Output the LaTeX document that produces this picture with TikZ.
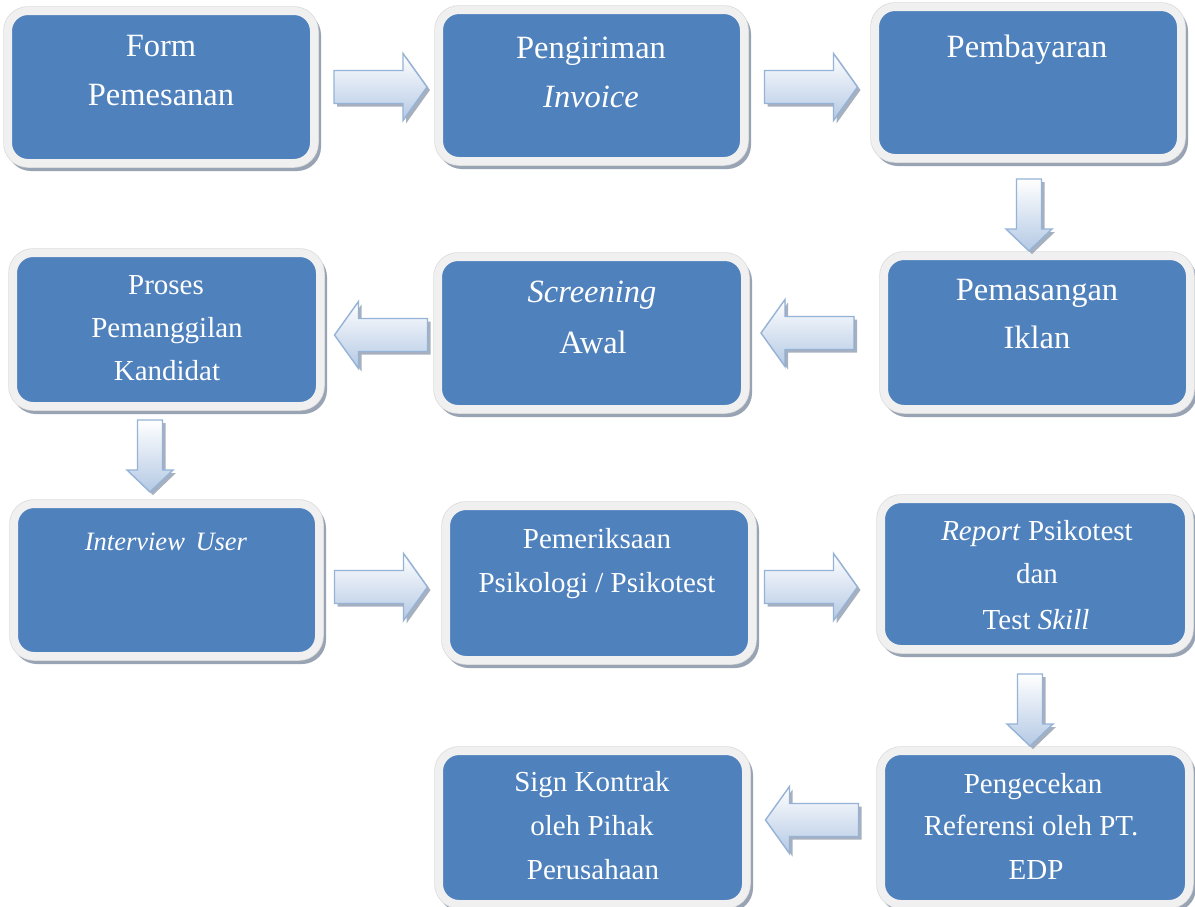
\documentclass[tikz,border=0pt]{standalone}
\usepackage{fontspec}
\setmainfont{Liberation Serif}
\usetikzlibrary{shadows}
\definecolor{boxblue}{HTML}{4F81BD}
\definecolor{framegray}{HTML}{F0F0F0}
\definecolor{shadowgray}{HTML}{98A3B4}
\definecolor{arrowline}{HTML}{95B3D7}
\definecolor{arrowfill}{HTML}{B4C9E4}
\tikzset{
  procbox/.style={rectangle, rounded corners=20pt, fill=boxblue, draw=framegray,
    line width=8pt, inner sep=0pt, outer sep=0pt,
    drop shadow={shadow xshift=3pt, shadow yshift=-4pt, fill=shadowgray, draw=shadowgray, line width=8pt, opacity=1},
    preaction={draw=black!14, line width=9.5pt}},
  bigtxt/.style={text=white, anchor=base, inner sep=0pt, font=\fontsize{32.5}{36}\selectfont},
  smalltxt/.style={text=white, anchor=base, inner sep=0pt, font=\fontsize{29}{33}\selectfont},
  blockarrow/.style={draw=arrowline, line width=1.4pt, line join=miter, top color=white, bottom color=arrowfill,
    drop shadow={shadow xshift=3pt, shadow yshift=-3pt, fill=shadowgray, opacity=0.85}}
}
\newcommand{\rarrow}[1]{\filldraw[blockarrow, shift={(#1)}] (-46.5,-16.5) -- (22.5,-16.5) -- (22.5,-33.5) -- (46.5,0) -- (22.5,33.5) -- (22.5,16.5) -- (-46.5,16.5) -- cycle;}
\newcommand{\larrow}[1]{\filldraw[blockarrow, shift={(#1)}] (46.5,-16.5) -- (-22.5,-16.5) -- (-22.5,-33.5) -- (-46.5,0) -- (-22.5,33.5) -- (-22.5,16.5) -- (46.5,16.5) -- cycle;}
\newcommand{\darrow}[1]{\filldraw[blockarrow, shift={(#1)}] (-12.5,-36) -- (12.5,-36) -- (12.5,14) -- (23,14) -- (0,36) -- (-23,14) -- (-12.5,14) -- (-12.5,-36) -- cycle;}
\begin{document}
\begin{tikzpicture}[x=1pt,y=-1pt]
\useasboundingbox[fill=white] (0,0) rectangle (1195,906);

% boxes
\node[procbox, minimum width=306pt, minimum height=152pt] (b1) at (161,87) {};
\node[procbox, minimum width=305pt, minimum height=151pt] (b2) at (591.5,85.5) {};
\node[procbox, minimum width=306pt, minimum height=151pt] (b3) at (1028,82.5) {};
\node[procbox, minimum width=306pt, minimum height=153pt] (b4) at (1037,332.5) {};
\node[procbox, minimum width=307pt, minimum height=152pt] (b5) at (591.5,333) {};
\node[procbox, minimum width=307pt, minimum height=153pt] (b6) at (166.5,329.5) {};
\node[procbox, minimum width=305pt, minimum height=152pt] (b7) at (166.5,580) {};
\node[procbox, minimum width=306pt, minimum height=154pt] (b8) at (599,583) {};
\node[procbox, minimum width=308pt, minimum height=150pt] (b9) at (1035,574) {};
\node[procbox, minimum width=308pt, minimum height=153pt] (b10) at (1035,827.5) {};
\node[procbox, minimum width=307pt, minimum height=153pt] (b11) at (592.5,827.5) {};

% texts
\node[bigtxt] (t1a) at (161,56) {Form};
\node[bigtxt] (t1b) at (161,105) {Pemesanan};
\node[bigtxt] (t2a) at (591,58) {Pengiriman};
\node[bigtxt] (t2b) at (591,107) {\textit{Invoice}};
\node[bigtxt] (t3a) at (1027,57) {Pembayaran};
\node[bigtxt] (t4a) at (1037,300) {Pemasangan};
\node[bigtxt] (t4b) at (1037,348) {Iklan};
\node[bigtxt] (t5a) at (592,302) {\textit{Screening}};
\node[bigtxt] (t5b) at (593,353) {Awal};
\node[smalltxt] (t6a) at (166,294) {Proses};
\node[smalltxt] (t6b) at (167,337) {Pemanggilan};
\node[smalltxt] (t6c) at (167,380) {Kandidat};
\node[smalltxt, font=\fontsize{26.5}{30}\selectfont] (t7a) at (166,550) {\textit{Interview\hspace{4pt} User}};
\node[smalltxt] (t8a) at (597,548) {Pemeriksaan};
\node[smalltxt] (t8b) at (597,592) {Psikologi / Psikotest};
\node[smalltxt] (t9a) at (1037,540) {\textit{Report} Psikotest};
\node[smalltxt] (t9b) at (1037,583) {dan};
\node[smalltxt] (t9c) at (1036,629) {Test \textit{Skill}};
\node[smalltxt] (t10a) at (1033,793) {Pengecekan};
\node[smalltxt] (t10b) at (1031,835) {Referensi oleh PT.};
\node[smalltxt] (t10c) at (1036,879) {EDP};
\node[smalltxt] (t11a) at (592,791) {Sign Kontrak};
\node[smalltxt] (t11b) at (592,835) {oleh Pihak};
\node[smalltxt] (t11c) at (593,879) {Perusahaan};

% arrows
\coordinate (a1) at (380.5,87);
\coordinate (a2) at (811,87);
\coordinate (a3) at (1029,215);
\coordinate (a4) at (807.5,333);
\coordinate (a5) at (381,335);
\coordinate (a6) at (150,456);
\coordinate (a7) at (381,587);
\coordinate (a8) at (811,587);
\coordinate (a9) at (1030,710);
\coordinate (a10) at (812,820);
\rarrow{a1}
\rarrow{a2}
\darrow{a3}
\larrow{a4}
\larrow{a5}
\darrow{a6}
\rarrow{a7}
\rarrow{a8}
\darrow{a9}
\larrow{a10}
\end{tikzpicture}
\end{document}
